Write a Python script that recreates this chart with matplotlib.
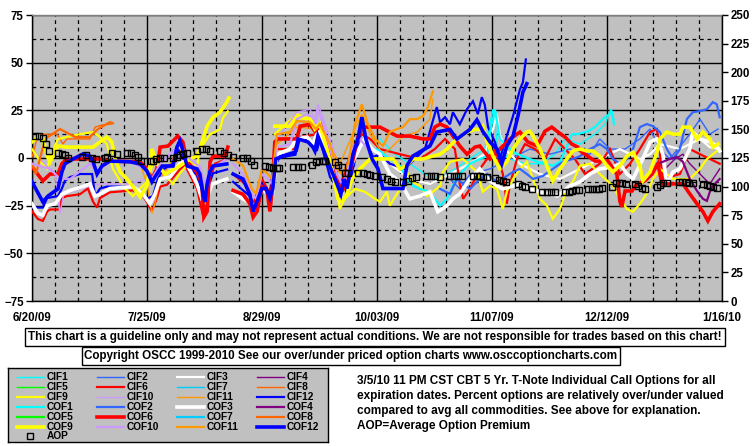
import numpy as np
import pandas as pd
import matplotlib
matplotlib.use('Agg')
import matplotlib.pyplot as plt
import matplotlib.dates as mdates
from matplotlib.lines import Line2D

FONT = ['Liberation Sans', 'DejaVu Sans']
plt.rcParams['font.family'] = FONT
plt.rcParams['font.weight'] = 'bold'

# ---------------- data ----------------
start_date = '2009-06-20'
x_tick_days = [0, 35, 70, 105, 140, 175, 210]
x_tick_labels = ["6/20/09", "7/25/09", "8/29/09", "10/03/09", "11/07/09", "12/12/09", "1/16/10"]
left_ticks = [-75, -50, -25, 0, 25, 50, 75]
right_ticks = [0, 25, 50, 75, 100, 125, 150, 175, 200, 225, 250]

series_names = ["CIF1", "CIF2", "CIF3", "CIF4", "CIF5", "CIF6", "CIF7", "CIF8", "CIF9", "CIF10", "CIF11", "CIF12",
                "COF1", "COF2", "COF3", "COF4", "COF5", "COF6", "COF7", "COF8", "COF9", "COF10", "COF11", "COF12"]

# days since 6/20/09, percent over/under value (None = gap)
cif1_days = [105.9, 110.5, 115, 119.6, 124.2, 128.7, 133.3, 137.8, 140.3, 141.8, 145.5, 150, 154.6, 159.2, 162.2, 166.8, 171.3, 174.4, 176.2, 177.1]
cif1_vals = [10, 2, -3, -8.4, -11, -5.7, -0.5, 4.7, 25.6, 4.7, -0.5, -3, -3, 2, 10, 7.3, 12.5, 17.8, 25.6, 20.4]

cif2_days = [127.2, 130.2, 133.3, 139.4, 145.5, 151.5, 157.6, 163.7, 169.8, 172.8, 175.9, 180.5, 185, 188.1, 191.1, 194.1, 200.2, 203.3, 206.3, 208.8]
cif2_vals = [-11, -16.2, -8.4, -5.7, -0.5, 4.7, 2, 4.7, 2, 10, 4.7, 4.7, 10, 15.2, 4.7, -0.5, 12.5, 20.4, 12.5, 15.2]

cif3_days = [108.9, 115, 121.1, 127.2, 133.3, 137.8, 140.3, 141.5, 142.4, 143.9, 148.5, 154.6, 160.7, 166.8, 172.8, 178.9, 185, 188.1, 191.1, 197.2, 200.2, 203.3, 206.3, 209.3]
cif3_vals = [-3, -11, -13.6, -8.4, -3, 2, 15.2, 23, 12.5, 4.7, -3, -8.4, -11, -5.7, -0.5, 4.7, -0.5, 2, 7.3, 4.7, 7.3, 10, 5.7, 4.7]

cif4_days = [191.1, 195.7, 198.1, 200.2, 203.3, 206.3, 209.3]
cif4_vals = [-8.4, -0.5, 2, -3, -8.4, -13.6, -5.7]

cif5_days = []
cif5_vals = []

cif6_days = [0, 1.8, 3.3, 4.6, 5.5, 8.5, 9.1, 10.6, 14.6, 17, 18.6, 19.8, 20.7, 23.7, 30.7, 33.8, 35.3, 36.5, 38, 39, 41.1, 45, 46.6, 48.7, 50.2, 52, 53.3, 54.2, 55.7, 59.3,
             60.3,
             61.2, 64.8, 67.3, 70, 72.4, 74.2, 80, 81.6, 87, 90.1, 93.7, 97.4, 100.4, 102.9, 105.9, 112, 118.1, 122.6, 125.7, 128.7, 130.2, 131.2, 133.3, 136.3, 138.5, 140.9,
             143.3, 144.5, 145.5, 147.6, 150, 153.1, 156.1, 159.2, 162.2, 165.2, 168.3, 172.8, 175.9, 178.9, 182, 185, 188.1, 190.2, 192, 197.2, 200.2, 203.3, 206.3, 209.3]
cif6_vals = [-28, -32, -33, -28, -27, -27, -21, -20, -19, -16, -23, -26, -21, -18, -17, -20, -24, -28, -21, -15, -14, -6, -4, -11, -16, -30, -24, -11, -3, -0.5,
             None,
             -8.4, -13.6, -24, -11, -18.8, 4.7, 4.7, 11, 12.5, -0.5, -15.2, 4.7, 12.5, 10, 4.7, 2, -0.5, 4.7, 10, 4.7, -13.6, -21.4, -16.2, -5.7, -0.5, 4.7,
             -8.4, -24, -13.6, -0.5, 7.3, 4.7, -0.5, 10, 4.7, -0.5, -8.4, -3, 4.7, -8.4, -3, 4.7, 13.6, 15.2, -11, -8.4, 4.7, 2, -0.5, -3]

cif7_days = []
cif7_vals = []

cif8_days = [0, 1.5, 3, 5.5, 7.6, 8.5, 9.4, 10.6, 17.6, 19.2, 21.3, 24.3]
cif8_vals = [0.5, 10, 12.5, 12.5, 12.5, 10, 7.3, 10, 10, 16.2, 17.3, 17.8]

cif9_days = [0, 2.4, 4.6, 5.5, 7.9, 14.6, 18.6, 20.7, 22.8, 24.6, 28.3, 30.7, 32.9, 35, 36.8, 39, 41.1, 42.9, 45, 48.1, 50.2, 51.1, 54.2, 57.2, 58.1, 59.6,
             65,
             73.9, 80.6, 84.6, 87.6, 90.7, 93.7, 95.2, 98.3, 101.3, 104.4, 105.9, 108, 108.9, 112, 114.1, 115.9, 118.1, 120.2, 122, 124.2, 125.1, 127.2, 131.2, 133.3,
             135.4, 137.2, 139.4, 141.5, 143.3, 144.5, 146.4, 148.5, 150.6, 154.6, 156.7, 158.5, 160.7, 162.8, 164.6, 166.8, 169.8, 172.8, 176.8, 178.9, 181.1, 182.9,
             185, 187.1, 189, 191.1, 193.2, 195.1, 200.2, 203.3, 205.4, 207.2, 209.3]
cif9_vals = [4.7, -1.6, -5.7, 0.5, 10, 12.5, 13.6, 11, 7.3, -5.7, -16, -20, -16, -12.5, -3, -2, -10, -13.6, -8, -2, -4.7, 4.7, 12.5, 15, 21, 24.5,
             None,
             12.5, 23, 20.4, 15.2, -0.5, -26.7, -21.4, -16.2, -17.7, -21.4, -23, -17.7, -25, -16.2, -7.3, -12.5, -14.6, -19.9, -17.7, -14.6, -7.3, -2, -0.5, -4,
             -7.3, -17.7, -14.6, -16.2, -26.7, -17.7, -11, -5.7, -2, -21.4, -25, -31.9, -26.7, -16.2, -12.5, -4, -3, -8.4, -14.6, -21.4, -26.7, -28.2,
             -24, -18.8, -11, -5.7, -8.4, -11, -11, -5.7, -0.5, 2, 4.7]

cif10_days = [2.4, 7, 8.5, 9.7, 14.6, 20.7, 29.8, 39, 45, 51.1,
              62,
              74.6, 80.6, 84.6, 86.1, 87, 88.2, 90.7, 93.7]
cif10_vals = [-0.5, -8.4, -29, -18.8, -16.2, -13.6, -13.6, -8.4, -0.5, -5.7,
              None,
              10, 24, 25.6, 20.4, 28.2, 23, 10, -5.7]

cif11_days = [32.9, 35, 36.5, 37.4, 39, 42, 44.4, 48.1,
              60,
              74.6, 80.6, 87.6, 93.7, 98.3, 100.4, 102.9, 106.8, 108.9, 112.9, 117.2, 119, 121.1, 122]
cif11_vals = [-3, -13.6, -29, -24, -11, -3, 4.7, -0.5,
              None,
              7.3, 16.2, 15.2, -3, 15.2, 23, 12.5, 2, 4.7, 11.5, 13.6, 16.7, 20.4, 30.8]

cif12_days = [0, 3.3, 4.6, 7.9, 9.1, 10, 11.6, 14.6, 18.3, 19.2, 20.7, 22.8, 30.7, 32.9, 35.3, 36.8, 38.3, 39.9, 42.9, 44.4, 47.2, 50.2, 51.7, 52.6, 53.6, 55.1, 59.4,
              60.3,
              61.2, 66.3, 67.3, 70, 72.4, 73.3, 75.5, 80.6, 81.6, 84.6, 86.7, 87.6, 90.7, 92.8, 94.3, 95.9, 98.9, 100.4, 101.9, 103.8, 105.9, 108.9, 113.5, 116.5,
              119.6, 121.7, 123.2, 124.2, 125.7, 127.2, 128.1, 130.2, 132.4, 134.2, 135.7, 136.9, 137.8, 138.8, 140.9, 142.4, 143.3, 144.5, 146.4, 148.5, 149.4, 150.3]
cif12_vals = [-26, -26, -21, -20, -16, -12, -10, -8.4, -8.4, -20, -16, -15, -15, -18, -21, -20, -11, -6, -3, 4.7, -4, -9, -18, -23, -15, -8, -6,
              None,
              -12.5, -20, -28, -13.6, -19, -6.8, 1, 3.7, 11, 8.4, 3.7, 10, -10, -15, -12, -19, 3.7, 17.7, 7.3, 0.5, 2, -3, -5.7, -0.5,
              4.7, 17.7, 26.7, 18.8, 21.4, 17.7, 24, 17.7, 25.6, 29.8, 23, 31.9, 28, 16.2, 8.4, -0.5, 4.7, 11.5, 22, 36, 39.7, 51.7]

cof1_days = [105, 108.9, 112, 114.1, 115.9, 118.1, 120.2, 122.6, 124.2, 126.3, 128.1, 130.2, 133.3, 136.3, 138.5, 139.4, 140.9, 142.4, 146.4, 151.5, 155.5,
             158.5, 160.7, 163.1, 164.3, 166.1, 169.2, 171.3, 172.2, 174.4, 176.5, 177.1]
cof1_vals = [4.7, -0.5, -4, -11, -14.6, -16.2, -17.3, -21.4, -25, -21.4, -14.6, -8.4, -3, -0.5, 1, 13.6, 25.6, 10, 3, -0.5, -3,
             -4, -2, 7.3, 12.5, 12.5, 14, 16.2, 17.8, 21.4, 24, 17.8]

cof2_days = [124.2, 127.2, 129.3, 131.2, 133.3, 136.3, 138.5, 141.5, 144.5, 146.4, 148.5, 150.6, 152.5, 155.5, 158.5, 161.6, 164.6, 166.8, 169.8, 172.8,
             175, 176.8, 178.9, 181.1, 182.9, 185, 187.1, 189, 191.1, 193.2, 195.1, 197.2, 199.3, 201.1, 203.3, 205.4, 207.2, 208.4, 209.3]
cof2_vals = [-16.2, -18.8, -11, -13.6, -16.2, -11, -8.4, -12.5, -9.4, -7.3, -5.7, -8.4, -11, -9.4, -5.7, -2, -0.5, 1, 4.7, 7.3,
             4.7, -0.5, -3, -0.5, 4.7, 16.2, 17.8, 16.7, 13.6, 4.7, -0.5, 4.7, 20.4, 24, 24.6, 25.6, 29.3, 28.2, 21.4]

cof3_days = [0, 1.8, 3.3, 4.6, 7, 9.1, 11.6, 16.1, 17.6, 19.2, 20.7, 23.7, 30.7, 33.8, 35.9, 37.4, 39, 42, 45, 46.6, 48.7, 50.2, 51.7, 53.3, 54.8, 59.3,
             60.3,
             61.2, 64.2, 66.9, 68.2, 70, 71.8, 73, 74.6, 78.5, 80.6, 83.7, 85.5, 87, 89.2, 91.6, 93.7, 95.2, 97.4, 99.8, 101.3, 103.5, 105.9, 108.9, 112, 115,
             118.1, 121.1, 123.5, 126.3, 128.1, 130.2, 133.3, 136.3, 139.4, 141.5, 143.3, 148.5, 151.5, 154.6, 159.8, 161.6, 163.7, 166.8, 169.8, 172.8, 176.8,
             178.9, 181.1, 182.9, 185.9, 188.1, 190.2, 192, 193.2, 195.1, 197.2, 200.2, 201.1, 203.3, 206.3, 208.4, 209.3]
cof3_vals = [-24, -29, -30, -25, -24, -19, -17, -14.6, -13.6, -20, -19, -16, -15, -19, -24, -19, -11, -10, -3, -1.6, -8.4, -13.6, -21.4, -20.4, -13.6, -11,
             None,
             -17.7, -21.4, -24, -26.7, -16.2, -18.8, -21.4, 2, 4.7, 10, 11, 7.3, 14, 4.7, -8.4, -21.4, -13.6, -3, 5.7, 10, 4.7, 2, -8.4, -12.5, -21.4,
             -19.9, -17.7, -28.2, -25, -21.4, -18.8, -11, -5.7, -12, -14.6, -16.2, -13.6, -16.2, -17.7, -19.9, -17.7, -14.6, -12.5, -8.4, -5.7, -4.7,
             -3, -8.4, -11, -0.5, 8.4, 10, 2, -13.6, -7.3, -5.7, 4.7, 13.6, 10, 8.4, 6.3, 3.7]

cof4_days = [190.2, 192, 194.1, 196.3, 198.1, 200.2, 202.4, 204.2, 205.4, 206.3, 207.2, 209.3]
cof4_vals = [-3, -2, -0.5, 0.5, -2, -11, -17.3, -21.4, -22.5, -17.7, -14.6, -11]

cof5_days = []
cof5_vals = []

cof6_days = [0, 3.3, 5.5, 7.9, 9.1, 10.6, 20.7, 23.7, 32.9, 35, 36.5, 38, 39, 41.4, 44.4, 45.9, 47.2, 50.2, 51.7, 52.3, 53.3, 54.2, 55.1, 58.7, 59.6,
             60.3,
             61.2, 64.2, 66.3, 67.3, 68.5, 70, 71.5, 72.4, 73, 73.9, 74.9, 80.6, 81.6, 84.6, 86.1, 88.2, 89.8, 92.2, 93.7, 95.9, 97.4, 99.2, 100.7, 103.8,
             105.9, 111.1, 115, 119, 121.1, 122.6, 124.2, 126.3, 128.1, 130.2, 132.4, 134.8, 136.3, 139.4, 142.4, 145.5, 148.5, 150.9, 153.7, 156.1, 158.2,
             160.1, 162.2, 164.3, 166.1, 167.4, 171.3, 175.3, 178, 178.9, 179.5, 180.5, 182.6, 184.1, 186.5, 188.7, 190.5, 191.7, 198.1, 200.2, 202.4, 204.2,
             205.7, 207.2, 209.3]
cof6_vals = [-4.7, -12, -8.4, -8.4, -3, -0.5, -0.5, -1.6, -2, -5.7, -11, -5.7, 5.7, 6.3, 11.5, 8.4, -2, -7.3, -13.6, -31, -28, -2, 1, 1, 5.7,
             None,
             -17, -19, -24, -31, -28, -15, -17, -28, -19, 8.4, 10, 10, 16.7, 17.7, 14, 17.7, 8.4, -4.7, -19, -13.6, -3, 11, 16.2, 16.2,
             16.2, 11.5, 11.5, 10, 10, 16.2, 17.8, 16.2, 11.5, 6.3, 2, 5.7, 6.3, -0.5, 4.7, 10, 13.6, 8.4, 6.3, 14, 16.2,
             13.6, 11, 7.3, 5.7, 3, -1.6, -1.6, -8.4, -22.5, -25.6, -17.3, -17.3, -13.6, -12, -8.4, -3, -13.6, -13.6, -18.8, -24, -28.2,
             -33, -28.2, -24]

cof7_days = []
cof7_vals = []

cof8_days = [0, 1.2, 2.4, 4, 8.5, 13.1, 17.6, 20.1, 23.7, 24.6]
cof8_vals = [-3, -8.4, -0.5, 10, 15.2, 11, 11, 15.2, 18.8, 18.3]

cof9_days = [0, 1.8, 3.3, 4.6, 5.5, 7.9, 10.6, 18.6, 20.7, 22.8, 24.3, 25.3, 26.8, 28.9, 30.7, 32.9, 35, 36.5, 38, 40.5, 43.5, 48.1, 50.2, 51.1, 53.3,
             55.1, 57.2, 59.3, 59.9,
             66,
             73.9, 78.5, 80.6, 84.6, 86.1, 87.6, 89.8, 91.6, 93.1, 94.3, 95.9, 97.4, 99.8, 102.9, 105.9, 109.9, 112, 114.1, 115.9, 119, 122, 124.2, 126.3,
             129.3, 132.4, 134.8, 136.3, 137.2, 138.5, 140.3, 142.4, 144.5, 146.4, 148.5, 150.6, 151.5, 152.5, 154.6, 156.7, 158.5, 160.7, 162.8, 164.6,
             166.8, 168.9, 170.7, 172.8, 175, 176.8, 178.9, 181.1, 182.9, 185, 185.9, 188.1, 190.2, 191.1, 193.2, 195.1, 197.2, 198.1, 200.2, 202.4, 204.2,
             206.3, 207.2, 208.8]
cof9_vals = [8.4, 11, 10, 1, -2, 6.3, 5.7, 5.7, 8.4, 11, 8.4, -0.5, -7.3, -11, -15, -20.5, -14.6, 4.7, -3, -8.4, -5.7, -0.5, 1, 4.7, 16.7,
             21.4, 24, 29.3, 31.4,
             None,
             16.7, 16.7, 21.4, 20.4, 15.2, 17.7, 4.7, -8.4, -21.4, -23, -18.8, -11, -5.7, -0.5, -0.5, -0.5, -5.7, -4, -0.5, -0.5, 1, 2, 4.7,
             10, 13.6, 15, 15, 16.7, 8.4, 1, -5.7, -2, 4.7, 10, 13.6, 14, 11.5, 4.7, -4, -12, -5.7, -0.5, 3.7,
             4.7, 3.7, 3.7, 1, -4, -7.3, -4, 1, 3, -4, -12, -7.3, 3, 10, 13.6, 12.5, 12.5, 16.2, 16.2, 10, 13.6,
             10, 5.7, 7.3]

cof10_days = [0, 5.5, 8.5, 11.6, 17.6, 19.8, 23.7, 29.8, 34.4, 36.5, 39, 43.5, 45, 48.1, 51.1, 52.6, 54.2, 59.3,
              60.3,
              61.2, 64.2, 66.9, 68.2, 70, 71.8, 73, 74.6, 78.5, 80.6, 83.7, 85.5, 86.4, 87, 88.6, 90.7, 92.8, 94.3, 95.9, 97.4, 99.8, 102.2]
cof10_vals = [-3, -5.7, -11, -11, -3, -6.8, -2, -2, -5.7, -11, -3, 4.7, 7.3, -0.5, -4.7, -13.6, -5.7, -0.5,
              None,
              -3, -8.4, -18.8, -21.4, -8.4, -11, -13.6, 5.7, 7.3, 20.4, 23, 21.4, 17.8, 25.6, 17.8, 4.7, -8.4, -13.6, -8.4, 4.7, 10, 4.7]

cof11_days = [61.2, 64.2, 66.9, 68.2, 70, 71.8, 73, 74.6, 78.5, 80.6, 84.6, 86.4, 87.6, 90.7, 92.8, 94.3, 96.2, 98.3, 100.4, 102.2, 104.4, 106.8,
              108.9, 111.1, 112.9, 115, 117.2, 119, 120.5, 122]
cof11_vals = [-0.5, -4, -16.2, -18.8, -5.7, -8.4, -11, 12.5, 13.6, 19.4, 18.8, 15.2, 17.8, 7.3, -5.7, -8.4, -3, 17.8, 28.2, 17.8, 10, 6.3,
              13.6, 15.2, 16.2, 20.4, 20.4, 22, 26.7, 35]

cof12_days = [0, 3.3, 4.9, 7.9, 9.1, 10, 12.5, 15.5, 17.6, 18.6, 19.8, 21.3, 23.7, 29.8, 32.9, 35, 36.5, 37.4, 39.6, 42.9, 44.1, 45, 46, 47.2, 50.2,
              51.1, 52, 52.6, 53.3, 54.2, 55.1, 59.3,
              60.3,
              61.2, 64.2, 66.3, 67.3, 68.2, 70, 71.2, 72.4, 73.3, 74.2, 76.4, 80, 81, 84, 85.5, 86.1, 87, 88.6, 90.7, 92.8, 94, 95, 95.9, 97.7, 99.2,
              100.4, 101.6, 103.5, 105.3, 106.8, 112.9, 114.1, 115.9, 121.1, 123.2, 127.2, 129.3, 133.3, 135.4, 137.2, 139.4, 141.5, 143, 144.5, 146.4,
              147.9, 149.4, 150.6]
cof12_vals = [-12.5, -23, -19.9, -16.2, -7.3, -3.1, -0.5, 2.1, 1, -2, -8.4, -4.2, -1.6, -2, -3.1, -6.8, -12.5, -10, -4.2, -4.2, 5.7, 9, 3.7, -4.2, -5.7,
              -8.4, -18.8, -23, -13.6, -6.8, -4.2, -3.1,
              None,
              -8.4, -11, -19, -28, -24, -16, -16, -21, -16, -0.5, 1, 2, 10, 8.4, 5.7, 3.7, 11.5, 4.7, -4.7, -13.6, -19, -11, -16, 2, 10,
              21.4, 10, -0.5, -5.7, -16, -16, -4, 1, 6.3, 13.6, 15, 9.9, 15, 20, 14, 8.4, 4.7, -3, 6.3, 11.5,
              22, 34.5, 39]

# Average option premium (right axis)
aop_days = [0.9, 2.1, 3.3, 4.3, 5.2, 7.9, 9.1, 10, 11, 15.2, 16.4, 18.3, 19.5, 22.2, 22.8, 24.3, 25.9, 28.9, 30.1, 31.3, 32.3, 33.2, 36.2, 36.8, 37.7,
            39, 40.2, 42.9, 44.1, 45, 46, 47.2, 50.2, 51.7, 53, 54.2, 57.2, 58.4, 59.6, 61.2, 64.2, 65.4, 66.6, 67.6, 70.9, 72.1, 73.3, 74.6, 75.2, 79.4,
            81, 82.2, 85.2, 86.4, 87.3, 88.6, 89.2, 92.2, 93.1, 94.3, 95.3, 96.2, 99.2, 100.7, 101.9, 102.9, 104.4, 106.5, 108, 109.3, 110.5, 112.9, 114.4,
            115.6, 116.9, 120.2, 121.4, 122.6, 124.2, 127.2, 128.4, 129.6, 130.9, 134.2, 135.4, 136.3, 137.2, 138.5, 140.9, 142.1, 143.3, 144.2, 147.9,
            149.1, 150, 152.2, 155.2, 156.7, 157.9, 159.2, 162.2, 163.4, 164.3, 165.5, 166.5, 169.2, 170.4, 171.6, 172.5, 173.5, 176.5, 177.7, 178.6,
            179.5, 180.8, 183.5, 184.4, 185.6, 186.6, 190.2, 191.1, 192, 193.2, 196.9, 197.8, 199, 199.9, 201.2, 204.2, 205.4, 206.3, 207.2, 208.5]
aop_vals = [144.6, 144.6, 142.9, 137.6, 130.7, 129.8, 128.9, 127.2, 125.4, 126.3, 127.2, 125.4, 123.7, 125.4, 126.3, 129.8, 128.9, 129.8, 129.8, 128,
            126.3, 122, 122.8, 122.8, 123.7, 124.6, 124.6, 125.4, 126.3, 127.2, 128.9, 129.8, 131.5, 133.3, 133.3, 131.5, 130.7, 129.8, 128, 126.3,
            125.4, 124.6, 122.8, 119.3, 117.6, 116.7, 115.9, 115.9, 115.9, 116.7, 116.7, 116.7, 118.5, 121.1, 122.8, 122, 122, 121.1, 119.3, 116.7,
            111.5, 111.5, 111.5, 111.5, 110.6, 109.8, 108.9, 108, 106.3, 104.5, 103.7, 103.7, 104.5, 107.1, 108, 108.9, 108.9, 108.9, 108, 108.9,
            108.9, 108.9, 108.9, 108.9, 108.9, 108.9, 108, 108, 107.1, 105.4, 104.5, 103.7, 101.9, 100.2, 99.3, 97.6, 94.9, 94.9, 94.9, 94.9, 94.9,
            94.9, 95.8, 96.7, 96.7, 97.6, 97.6, 97.6, 97.6, 98.4, 99.3, 102.8, 102.8, 102.8, 101.9, 101.9, 100.2, 98.4, 97.6, 99.3, 101, 102.8,
            102.8, 103.7, 103.7, 103.7, 102.8, 102.8, 101.9, 101, 100.2, 99.3, 98.4]

colors = ['#00FFFF', '#3366FF', '#FFFFFF', '#800080', '#00FF00', '#FF0000',
          '#00CCFF', '#FF6600', '#FFFF00', '#CC99FF', '#FF9900', '#0000FF']
cif_widths_px = [1.4, 1.4, 2.2, 1.4, 1.4, 2.2, 1.4, 1.4, 2.2, 1.4, 1.4, 2.2]
cof_widths_px = [2.2, 2.2, 3.6, 2.2, 2.2, 3.6, 2.2, 2.2, 3.6, 2.2, 2.2, 3.6]

# ---------------- figure ----------------
DPI = 100
W, H = 755, 446
fig = plt.figure(figsize=(W / DPI, H / DPI), dpi=DPI, facecolor='white')


def fx(px):
    return px / W


def fy(py):
    return 1 - py / H


ax = fig.add_axes([fx(32), fy(301), fx(722) - fx(32), fy(15) - fy(301)])
ax.set_facecolor('#C0C0C0')
base = mdates.date2num(pd.Timestamp(start_date))

all_days = [cif1_days, cif2_days, cif3_days, cif4_days, cif5_days, cif6_days, cif7_days, cif8_days, cif9_days, cif10_days, cif11_days, cif12_days,
            cof1_days, cof2_days, cof3_days, cof4_days, cof5_days, cof6_days, cof7_days, cof8_days, cof9_days, cof10_days, cof11_days, cof12_days]
all_vals = [cif1_vals, cif2_vals, cif3_vals, cif4_vals, cif5_vals, cif6_vals, cif7_vals, cif8_vals, cif9_vals, cif10_vals, cif11_vals, cif12_vals,
            cof1_vals, cof2_vals, cof3_vals, cof4_vals, cof5_vals, cof6_vals, cof7_vals, cof8_vals, cof9_vals, cof10_vals, cof11_vals, cof12_vals]
widths_pt = [w * 0.72 for w in cif_widths_px + cof_widths_px]
all_colors = colors + colors

for name, d, v, c, lw in zip(series_names, all_days, all_vals, all_colors, widths_pt):
    if len(d) == 0:
        continue
    dd = np.array([np.nan if val is None else day for day, val in zip(d, v)], dtype=float)
    vv = np.array(v, dtype=float)
    ax.plot(base + dd, vv, color=c, lw=lw, solid_joinstyle='miter', zorder=3)

ax.set_xlim(base + 0, base + 210)
ax.set_ylim(-75, 75)
ax.set_xticks([base + d for d in x_tick_days])
ax.set_xticklabels(x_tick_labels)
ax.set_xticks([base + d for d in range(0, 211, 7)], minor=True)
ax.set_yticks(left_ticks)
ax.set_yticks([t + 12.5 for t in left_ticks[:-1]], minor=True)

ax.grid(which='major', color='black', lw=1.0, ls='-', zorder=1)
ax.grid(which='minor', color='black', lw=0.9, ls=(0, (3, 3)), zorder=1)
ax.set_axisbelow(True)

ax.tick_params(axis='x', which='both', length=0, pad=8, labelsize=8.3)
ax.tick_params(axis='y', which='major', length=4, width=1, direction='out', pad=2, labelsize=8.3)
ax.tick_params(axis='y', which='minor', length=0)
for lab in ax.get_xticklabels() + ax.get_yticklabels():
    lab.set_fontweight('bold')
for sp in ax.spines.values():
    sp.set_color('black')
    sp.set_linewidth(1)
ax.spines['top'].set_color('#808080')

ax2 = ax.twinx()
ax2.set_ylim(0, 250)
ax2.set_yticks(right_ticks)
ax2.tick_params(axis='y', length=4, width=1, direction='out', pad=2, labelsize=8.3)
for lab in ax2.get_yticklabels():
    lab.set_fontweight('bold')
ax2.plot(base + np.array(aop_days), aop_vals, ls='none', marker='s', ms=4.4, mfc='none', mec='black', mew=1.0, zorder=5)
ax2.set_xlim(base + 0, base + 210)
for sp in ax2.spines.values():
    sp.set_visible(False)

# ---------------- notes ----------------
box = dict(boxstyle='square,pad=0.25', fc='white', ec='black', lw=1)
fig.text(fx(375), fy(337),
         "This chart is a guideline only and may not represent actual conditions. We are not responsible for trades based on this chart!",
         ha='center', va='center', fontsize=8.4, fontweight='bold', bbox=box)
fig.text(fx(351), fy(356),
         "Copyright OSCC 1999-2010 See our over/under priced option charts www.osccoptioncharts.com",
         ha='center', va='center', fontsize=8.4, fontweight='bold', bbox=box)

note_lines = ["3/5/10 11 PM CST CBT 5 Yr. T-Note Individual Call Options for all",
              "expiration dates. Percent options are relatively over/under valued",
              "compared to avg all commodities. See above for explanation.",
              "AOP=Average Option Premium"]
for i, t in enumerate(note_lines):
    fig.text(fx(357), fy(381 + i * 15), t, ha='left', va='center', fontsize=8.5, fontweight='bold')

# ---------------- legend ----------------
lx0, ly0, lx1, ly1 = 8, 368, 328, 442
axl = fig.add_axes([fx(lx0), fy(ly1), fx(lx1) - fx(lx0), fy(ly0) - fy(ly1)])
axl.set_facecolor('#C0C0C0')
axl.set_xlim(lx0, lx1)
axl.set_ylim(ly1, ly0)
axl.set_xticks([])
axl.set_yticks([])
for sp in axl.spines.values():
    sp.set_color('black')
    sp.set_linewidth(1)
col_x = [17, 97, 177, 257]
row_y = [377, 387, 397, 407, 417, 426.5, 436]
for i, (name, c, lw) in enumerate(zip(series_names, all_colors, widths_pt)):
    r, k = divmod(i, 4)
    axl.add_line(Line2D([col_x[k], col_x[k] + 27], [row_y[r], row_y[r]], color=c, lw=lw))
    axl.text(col_x[k] + 30, row_y[r], name, ha='left', va='center', fontsize=7.3, fontweight='bold')
axl.plot([col_x[0] + 13], [row_y[6]], ls='none', marker='s', ms=4.4, mfc='none', mec='black', mew=1.0)
axl.text(col_x[0] + 30, row_y[6], "AOP", ha='left', va='center', fontsize=7.3, fontweight='bold')

fig.savefig('out.png', dpi=DPI, facecolor='white')
